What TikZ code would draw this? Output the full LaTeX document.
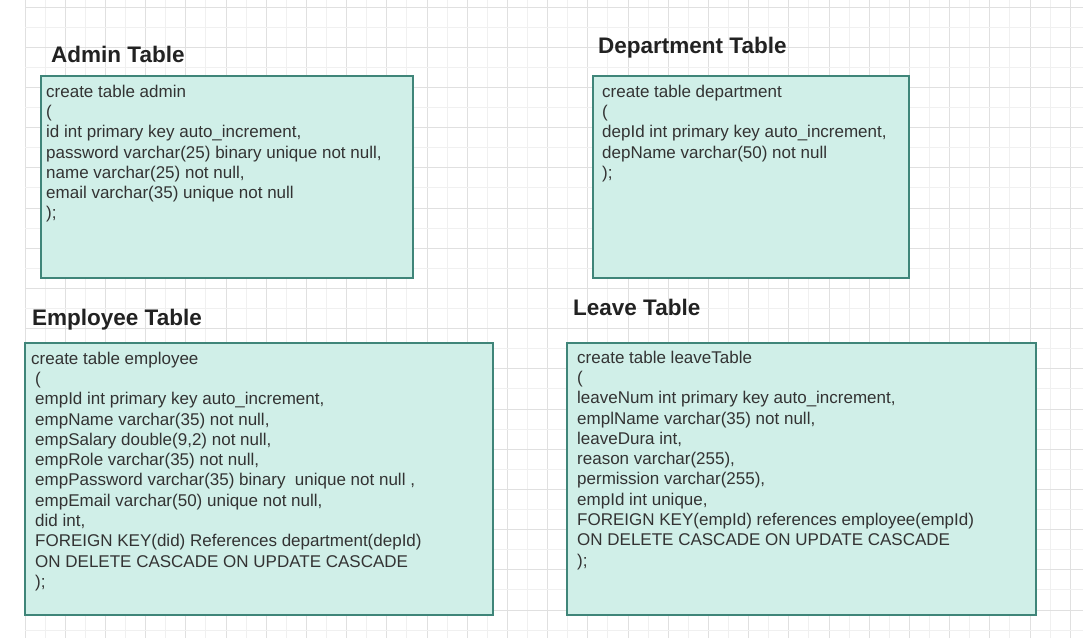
\documentclass[tikz,border=0pt]{standalone}
\usepackage{fontspec}
\setmainfont{Liberation Sans}
\definecolor{gridminor}{HTML}{F0F0F0}
\definecolor{gridmajor}{HTML}{E0E0E0}
\definecolor{boxfill}{HTML}{D0EFE8}
\definecolor{boxdraw}{HTML}{3F8579}
\definecolor{bodytext}{HTML}{333333}
\definecolor{titletext}{HTML}{222222}
\begin{document}
\begin{tikzpicture}[x=1pt,y=-1pt,
  tablebox/.style={draw=boxdraw, fill=boxfill, line width=2.4pt, anchor=north west, inner sep=0pt, outer sep=0pt},
  sqltext/.style={anchor=north west, inner sep=0pt, align=left, text=bodytext, font=\fontsize{17}{20.3}\selectfont},
  tabletitle/.style={anchor=base west, inner sep=0pt, text=titletext, font=\bfseries\fontsize{22.5}{26}\selectfont}]
\useasboundingbox (0,0) rectangle (1083,638);
\fill[white] (0,0) rectangle (1083,638);
\foreach \k in {0,...,52} {
  \pgfmathsetmacro{\xx}{25+20.1*\k}
  \ifodd\k
    \draw[gridminor, line width=1pt] (\xx,0) -- (\xx,638);
  \else
    \draw[gridmajor, line width=1pt] (\xx,0) -- (\xx,638);
  \fi
}
\foreach \k in {0,...,31} {
  \pgfmathsetmacro{\yy}{7+20.1*\k}
  \ifodd\k
    \draw[gridminor, line width=1pt] (25,\yy) -- (1083,\yy);
  \else
    \draw[gridmajor, line width=1pt] (25,\yy) -- (1083,\yy);
  \fi
}
% titles
\node[tabletitle] (admintitle) at (51,62) {Admin Table};
\node[tabletitle] (deptitle) at (598,53) {Department Table};
\node[tabletitle] (emptitle) at (32,325) {Employee Table};
\node[tabletitle] (leavetitle) at (573,315) {Leave Table};
% boxes
\node[tablebox, minimum width=372pt, minimum height=202pt] (admin) at (41,76) {};
\node[tablebox, minimum width=316pt, minimum height=202pt] (dep) at (593,76) {};
\node[tablebox, minimum width=468pt, minimum height=272pt] (emp) at (25,343) {};
\node[tablebox, minimum width=469pt, minimum height=272pt] (leave) at (567,343) {};
% texts
\node[sqltext] (admintext) at (46,84.6) {create table admin\\
(\\
id int primary key auto\_increment,\\
password varchar(25) binary unique not null,\\
name varchar(25) not null,\\
email varchar(35) unique not null\\
);};
\node[sqltext] (deptext) at (602,84.6) {create table department\\
(\\
depId int primary key auto\_increment,\\
depName varchar(50) not null\\
);};
\node[sqltext] (emptext) at (31,351.6) {create table employee\\
\hspace*{4pt}(\\
\hspace*{4pt}empId int primary key auto\_increment,\\
\hspace*{4pt}empName varchar(35) not null,\\
\hspace*{4pt}empSalary double(9,2) not null,\\
\hspace*{4pt}empRole varchar(35) not null,\\
\hspace*{4pt}empPassword varchar(35) binary\ \ unique not null ,\\
\hspace*{4pt}empEmail varchar(50) unique not null,\\
\hspace*{4pt}did int,\\
\hspace*{4pt}FOREIGN KEY(did) References department(depId)\\
\hspace*{4pt}ON DELETE CASCADE ON UPDATE CASCADE\\
\hspace*{4pt});};
\node[sqltext] (leavetext) at (577,350.6) {create table leaveTable\\
(\\
leaveNum int primary key auto\_increment,\\
emplName varchar(35) not null,\\
leaveDura int,\\
reason varchar(255),\\
permission varchar(255),\\
empId int unique,\\
FOREIGN KEY(empId) references employee(empId)\\
ON DELETE CASCADE ON UPDATE CASCADE\\
);};
\end{tikzpicture}
\end{document}
